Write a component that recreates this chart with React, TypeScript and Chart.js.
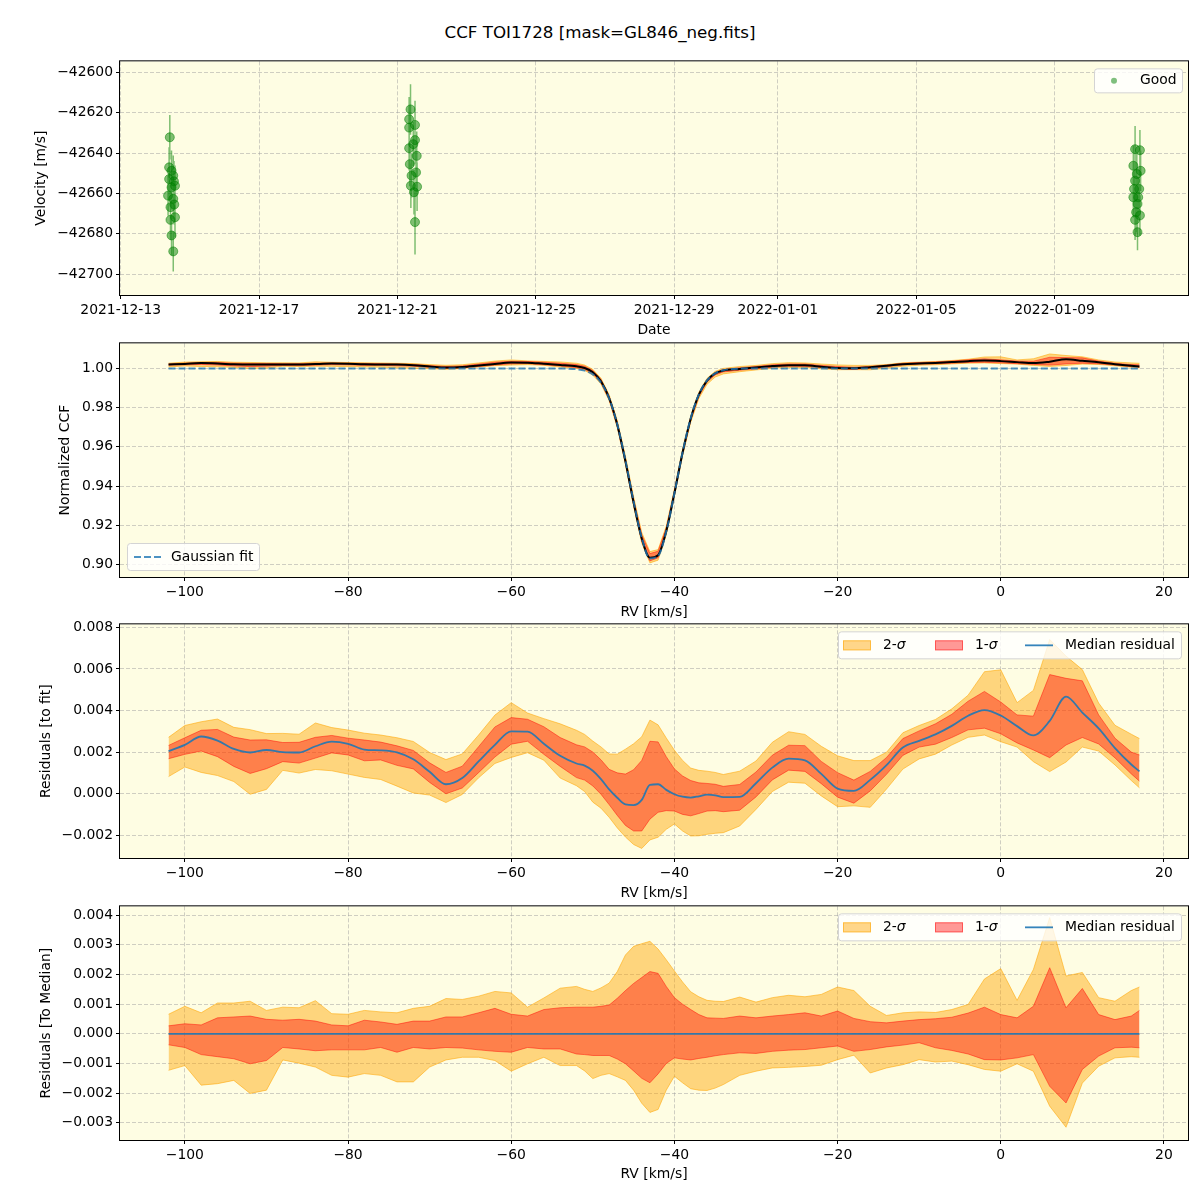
import React, { useEffect, useRef } from 'react';
import { Chart, registerables } from 'chart.js';

Chart.register(...registerables);

const FONT = 'DejaVu Sans';
const FS = 13.9;
const BG = '#fefde3';
const GRID_C = 'rgba(160,160,160,0.5)';

// ---------- Panel 1: velocities (days since 2021-12-13 00:00) ----------
const dateTickDays = [0, 4, 8, 12, 16, 19, 23, 27];
const dateTickLabels = ['2021-12-13', '2021-12-17', '2021-12-21', '2021-12-25', '2021-12-29', '2022-01-01', '2022-01-05', '2022-01-09'];
const velTicks = [-42700, -42680, -42660, -42640, -42620, -42600];

const obsDays = [
  1.42, 1.40, 1.47, 1.52, 1.40, 1.54, 1.57, 1.47, 1.37, 1.52, 1.55, 1.44, 1.57, 1.44, 1.47, 1.52,
  8.38, 8.34, 8.51, 8.34, 8.51, 8.46, 8.34, 8.56, 8.36, 8.54, 8.41, 8.39, 8.57, 8.48, 8.51,
  29.33, 29.47, 29.28, 29.49, 29.38, 29.33, 29.45, 29.30, 29.28, 29.42, 29.40, 29.36, 29.47, 29.33, 29.40,
];
const obsVel = [
  -42632.2, -42647.1, -42648.8, -42651.2, -42652.9, -42654.0, -42656.2, -42657.0, -42661.1, -42662.7, -42665.5, -42666.8, -42671.8, -42673.1, -42680.8, -42688.7,
  -42618.4, -42623.3, -42626.1, -42627.4, -42633.6, -42635.6, -42637.6, -42641.4, -42645.5, -42649.6, -42651.2, -42656.2, -42656.7, -42659.4, -42674.2,
  -42638.1, -42638.6, -42646.3, -42648.8, -42650.4, -42653.7, -42657.8, -42657.8, -42661.9, -42661.9, -42665.2, -42669.3, -42670.9, -42673.1, -42679.2,
];
const obsErr = [
  11, 10, 10, 10, 11, 10, 10, 11, 10, 10, 10, 11, 10, 10, 10, 10,
  12.5, 11, 12, 11, 12, 11, 11, 12, 11, 12, 11, 11, 12, 11, 16,
  11.5, 10, 10, 10, 10, 10, 10, 10, 10, 10, 10, 10, 10, 10, 9,
];

// ---------- Panels 2-4: CCF and residuals ----------
const rvTicks = [-100, -80, -60, -40, -20, 0, 20];
const ccfTicks = [0.9, 0.92, 0.94, 0.96, 0.98, 1.0];
const resTicks = [-0.002, 0, 0.002, 0.004, 0.006, 0.008];
const medTicks = [-0.003, -0.002, -0.001, 0, 0.001, 0.002, 0.003, 0.004];

const rv = [
  -102, -100, -98, -96, -94, -92, -90, -88, -86, -84,
  -82, -80, -78, -76, -74, -72, -70, -68, -66, -64,
  -62, -60, -58, -56, -54, -52, -51, -50, -49, -48,
  -47, -46, -45, -44, -43, -42, -41, -40, -39, -38,
  -37, -36, -35, -34, -32, -30, -28, -26, -24, -22,
  -20, -18, -16, -14, -12, -10, -8, -6, -4, -2,
  0, 2, 4, 6, 8, 10, 12, 14, 16, 17,
];

// Gaussian fit of the normalized CCF
const gaussFit = [
  1, 1, 1, 1, 1, 1, 1, 1, 1, 1,
  1, 1, 1, 1, 1, 1, 1, 1, 1, 1,
  1, 1, 1, 1, 0.99998, 0.99965, 0.99891, 0.99702, 0.99281, 0.98474,
  0.97149, 0.95312, 0.93213, 0.91352, 0.90299, 0.90423, 0.91677, 0.93632, 0.95712, 0.97458,
  0.98674, 0.99391, 0.99754, 0.99912, 0.99992, 1, 1, 1, 1, 1,
  1, 1, 1, 1, 1, 1, 1, 1, 1, 1,
  1, 1, 1, 1, 1, 1, 1, 1, 1, 1,
];

// residual values below are in units of 1e-4
const RES_UNIT = 1e-4;
const medianRes = [
  20.5, 23.5, 27.5, 25.5, 21.5, 19.8, 21, 20, 19.8, 22.8,
  25, 24, 21.2, 20.8, 19.8, 16.5, 10.5, 4.5, 7.5, 15.5,
  23.5, 30, 29.8, 24, 18.2, 14.5, 13.5, 11, 7, 2,
  -2, -5.2, -5.5, -3, 4.2, 4.5, 1.8, -0.3, -1.5, -1.9,
  -1.3, -0.5, -0.8, -1.7, -1.6, 5, 12.5, 16.8, 16, 9.5,
  2.4, 1.3, 6.6, 13.7, 22.2, 25.4, 28.5, 32.6, 37.5, 40.2,
  37.6, 32.5, 28, 35, 46.7, 39, 31.4, 21.9, 14, 10.7,
];
// band edges relative to the median residual
const up2Off = [
  6.6, 9.3, 7.1, 10.4, 10.4, 11, 7.9, 9, 8.8, 11.2,
  6.8, 6.6, 7.9, 7.4, 7.1, 8.6, 9.3, 11.9, 11.6, 12.7,
  14.3, 13.8, 9, 12.1, 15.4, 16, 15, 14.3, 15.5, 17.1,
  21, 26.6, 29.5, 30.4, 31.2, 28.6, 25, 21.2, 17.5, 14.2,
  12.5, 11.3, 11, 10.9, 12.4, 10.7, 12.2, 13, 12.5, 13.3,
  15.8, 14.6, 9.3, 6.2, 7.1, 7.4, 7.2, 8.2, 9.9, 18.5,
  22, 11.3, 21.7, 39.2, 19.5, 20.7, 12.2, 11, 14.6, 15.8,
];
const up1Off = [
  2.7, 3.4, 3, 5.4, 5.7, 6, 4.9, 4.6, 4.9, 4.3,
  3, 2.7, 4.6, 4, 3.2, 4.3, 4.3, 5.7, 5.7, 7.1,
  8.6, 6.6, 6, 8.2, 8.8, 9, 9, 9, 9.3, 9.7,
  12, 14.6, 17, 19, 21, 20.4, 16, 12.2, 10, 8.2,
  6.5, 5.4, 5.3, 5.2, 6, 5.4, 6, 6.5, 7.1, 6,
  7.7, 5.2, 4.1, 3.7, 4.3, 4.8, 5.1, 5.6, 7, 9,
  6.5, 5.4, 9.3, 22.3, 8.8, 15.3, 6.5, 4.8, 6, 7.9,
];
const lo1Off = [
  -3.7, -4.6, -7, -7.7, -8.4, -10.1, -9, -4.6, -5.1, -5.7,
  -5.4, -5.4, -5.4, -4.6, -6.2, -4.6, -5.1, -4.6, -4.8, -5.4,
  -5.9, -6.2, -4.6, -5.1, -5.1, -6.8, -7, -7.3, -7.3, -7.3,
  -8.5, -10.1, -12.5, -15, -16.5, -13.5, -10, -8.1, -8.5, -8.8,
  -8.3, -7.9, -7.4, -7, -6.4, -6.6, -5.9, -5.5, -5.3, -4.7,
  -4.1, -5.9, -5.3, -4.4, -3.8, -3, -4.7, -5.6, -6.8, -8.7,
  -8.8, -8.1, -7, -17.7, -23.3, -12, -7.5, -4.7, -4.5, -4.7,
];
const lo2Off = [
  -12.3, -10.7, -17.3, -16.8, -15.7, -20.1, -19, -8.8, -9.9, -11.2,
  -14, -14.6, -13.4, -14, -16.2, -16.2, -11.2, -8.8, -7.9, -7.9,
  -9, -12.6, -10.1, -7.9, -10.7, -10.7, -12.5, -15.1, -14, -13.4,
  -14.5, -15.7, -19, -23.4, -26.5, -25.5, -19, -14.3, -16.5, -18.5,
  -19, -19.1, -18.3, -17.1, -14, -12.6, -11.5, -11.3, -11, -10.6,
  -8.7, -7.2, -13.2, -11.5, -10.4, -8.7, -9.5, -9.2, -10.4, -12,
  -12.6, -10.1, -12.6, -24.4, -31.5, -16.6, -10.9, -8.1, -7.7, -7.9,
];

// ---------- helpers ----------
const C_2S = 'rgba(255,165,0,0.45)';
const C_2S_EDGE = 'rgba(255,165,0,0.55)';
const C_1S = 'rgba(255,0,0,0.4)';
const C_1S_EDGE = 'rgba(255,0,0,0.45)';
const C_MED = 'rgba(31,119,180,0.9)';
const C_GAUSS = 'rgba(31,119,180,0.8)';
const C_GOOD = 'rgba(0,128,0,0.5)';

const minus = (v: number, s: string) => (v < -1e-12 ? '\u2212' : '') + s;
const fmtInt = (v: number) => minus(v, Math.abs(v).toFixed(0));
const fmt2 = (v: number) => minus(v, Math.abs(v).toFixed(2));
const fmt3 = (v: number) => minus(v, Math.abs(v).toFixed(3));

const pts = (ys: number[]) => rv.map((x, i) => ({ x, y: ys[i] }));

const font = { family: FONT, size: FS };

function gridOpts() {
  return { color: GRID_C, lineWidth: 1, tickColor: '#000', tickLength: 4, tickWidth: 1, tickBorderDash: [] as number[] };
}

function xAxis(min: number, max: number, tickVals: number[], labelFn: (v: number, i: number) => string, title: string, padBottom: number) {
  return {
    type: 'linear',
    min,
    max,
    afterBuildTicks: (s: any) => { s.ticks = tickVals.map((v) => ({ value: v })); },
    afterFit: (s: any) => { s.height = 45; },
    ticks: { callback: (v: any, i: number) => labelFn(Number(v), i), font, color: '#000', padding: 3, maxRotation: 0, autoSkip: false },
    grid: gridOpts(),
    border: { display: false, dash: [4, 2] },
    title: { display: true, text: title, font, color: '#000', padding: { top: 0, bottom: padBottom } },
  };
}

function yAxis(min: number, max: number, tickVals: number[], labelFn: (v: number) => string, title: string, padTop: number) {
  return {
    type: 'linear',
    min,
    max,
    afterBuildTicks: (s: any) => { s.ticks = tickVals.map((v) => ({ value: v })); },
    afterFit: (s: any) => { s.width = 120; },
    ticks: { callback: (v: any) => labelFn(Number(v)), font, color: '#000', padding: 3, autoSkip: false },
    grid: gridOpts(),
    border: { display: false, dash: [4, 2] },
    title: { display: true, text: title, font, color: '#000', padding: { top: padTop, bottom: 0 } },
  };
}

type LegendItem = { kind: 'dot' | 'dash' | 'patch' | 'line'; x0: number; x1: number; tx: number; label: string; sigma?: boolean; fill?: string; edge?: string; width?: number };
type LegendCfg = { corner: 'tr' | 'bl'; dx: number; dy: number; w: number; h: number; items: LegendItem[] };

const framePlugin = {
  id: 'frameBg',
  beforeDraw(chart: any) {
    const { ctx, chartArea: a } = chart;
    ctx.save();
    ctx.fillStyle = BG;
    ctx.fillRect(a.left, a.top, a.right - a.left, a.bottom - a.top);
    ctx.restore();
  },
  afterDraw(chart: any) {
    const { ctx, chartArea: a } = chart;
    ctx.save();
    ctx.strokeStyle = '#000';
    ctx.lineWidth = 1;
    ctx.strokeRect(a.left - 0.5, a.top - 0.5, a.right - a.left + 1, a.bottom - a.top + 1);
    ctx.restore();
  },
};

function legendPlugin(cfg: LegendCfg) {
  return {
    id: 'boxLegend',
    afterDraw(chart: any) {
      const { ctx, chartArea: a } = chart;
      const left = cfg.corner === 'tr' ? a.right - cfg.dx : a.left + cfg.dx;
      const top = cfg.corner === 'tr' ? a.top + cfg.dy : a.bottom - cfg.dy - cfg.h;
      ctx.save();
      ctx.beginPath();
      ctx.roundRect(left + 0.5, top + 0.5, cfg.w, cfg.h, 3);
      ctx.fillStyle = 'rgba(255,255,255,0.8)';
      ctx.fill();
      ctx.strokeStyle = '#d4d4d4';
      ctx.lineWidth = 1;
      ctx.stroke();
      const cy = top + cfg.h / 2 + 0.5;
      for (const it of cfg.items) {
        const x0 = left + it.x0;
        const x1 = left + it.x1;
        if (it.kind === 'dot') {
          ctx.beginPath();
          ctx.arc((x0 + x1) / 2, cy, 3, 0, Math.PI * 2);
          ctx.fillStyle = it.fill;
          ctx.fill();
        } else if (it.kind === 'patch') {
          ctx.fillStyle = it.fill;
          ctx.fillRect(x0, cy - 5, x1 - x0, 10);
          ctx.strokeStyle = it.edge;
          ctx.lineWidth = 1;
          ctx.strokeRect(x0 + 0.5, cy - 4.5, x1 - x0 - 1, 9);
        } else {
          ctx.beginPath();
          ctx.setLineDash(it.kind === 'dash' ? [7, 3] : []);
          ctx.moveTo(x0, cy);
          ctx.lineTo(x1, cy);
          ctx.strokeStyle = it.edge;
          ctx.lineWidth = it.width || 1.8;
          ctx.stroke();
          ctx.setLineDash([]);
        }
        ctx.fillStyle = '#000';
        ctx.textBaseline = 'middle';
        ctx.textAlign = 'left';
        ctx.font = `${FS}px "${FONT}"`;
        ctx.fillText(it.label, left + it.tx, cy);
        if (it.sigma) {
          const w = ctx.measureText(it.label).width;
          ctx.font = `italic ${FS}px "${FONT}"`;
          ctx.fillText('\u03c3', left + it.tx + w, cy);
        }
      }
      ctx.restore();
    },
  };
}

const bandLegend: LegendCfg = {
  corner: 'tr', dx: 350, dy: 7, w: 343, h: 27,
  items: [
    { kind: 'patch', x0: 5, x1: 33, tx: 45, label: '2-', sigma: true, fill: C_2S, edge: C_2S_EDGE },
    { kind: 'patch', x0: 97, x1: 125, tx: 137, label: '1-', sigma: true, fill: C_1S, edge: C_1S_EDGE },
    { kind: 'line', x0: 187, x1: 215, tx: 227, label: 'Median residual', edge: C_MED, width: 1.8 },
  ],
};

function bandSets(mid: number[], u2: number[], l2: number[], u1: number[], l1: number[], midColor: string, midWidth: number, extra: any[] = []) {
  return [
    ...extra,
    { data: pts(mid), borderColor: midColor, borderWidth: midWidth, pointRadius: 0, fill: false, cubicInterpolationMode: 'monotone' },
    { data: pts(u1), borderColor: C_1S_EDGE, backgroundColor: C_1S, borderWidth: 1, pointRadius: 0, fill: '+1' },
    { data: pts(l1), borderColor: C_1S_EDGE, borderWidth: 1, pointRadius: 0, fill: false },
    { data: pts(u2), borderColor: C_2S_EDGE, backgroundColor: C_2S, borderWidth: 1, pointRadius: 0, fill: '+1' },
    { data: pts(l2), borderColor: C_2S_EDGE, borderWidth: 1, pointRadius: 0, fill: false },
  ];
}

const baseOptions = (scales: any) => ({
  responsive: false,
  maintainAspectRatio: false,
  animation: false,
  events: [],
  layout: { padding: { top: 10, right: 12, left: 0, bottom: 0 } },
  plugins: { legend: { display: false }, tooltip: { enabled: false } },
  scales,
});

const rvLabel = (v: number) => fmtInt(v);

function cfgVelocity(): any {
  const markers = obsDays.map((d, i) => ({ x: d, y: obsVel[i] }));
  const bars: any[] = [];
  obsDays.forEach((d, i) => {
    bars.push({ x: d, y: obsVel[i] - obsErr[i] }, { x: d, y: obsVel[i] + obsErr[i] }, { x: d, y: null });
  });
  return {
    type: 'line',
    data: {
      datasets: [
        { data: markers, showLine: false, pointRadius: 4.5, pointBackgroundColor: C_GOOD, pointBorderColor: C_GOOD, pointBorderWidth: 1 },
        { data: bars, borderColor: C_GOOD, borderWidth: 1.5, pointRadius: 0, spanGaps: false, fill: false },
      ],
    },
    options: baseOptions({
      x: xAxis(-0.02, 30.86, dateTickDays, (_v, i) => dateTickLabels[i], 'Date', 1.7),
      y: yAxis(-42710.3, -42594.6, velTicks, fmtInt, 'Velocity [m/s]', 32.6),
    }),
    plugins: [framePlugin, legendPlugin({
      corner: 'tr', dx: 94, dy: 7, w: 88, h: 24,
      items: [{ kind: 'dot', x0: 6, x1: 34, tx: 46, label: 'Good', fill: C_GOOD }],
    })],
  };
}

function cfgCCF(): any {
  const obs = rv.map((_, i) => gaussFit[i] + medianRes[i] * RES_UNIT);
  const band = (off: number[]) => rv.map((_, i) => gaussFit[i] + (medianRes[i] + off[i]) * RES_UNIT);
  const gaussSet = { data: pts(gaussFit), borderColor: C_GAUSS, borderWidth: 2, borderDash: [7, 3], pointRadius: 0, fill: false, cubicInterpolationMode: 'monotone' };
  return {
    type: 'line',
    data: { datasets: bandSets(obs, band(up2Off), band(lo2Off), band(up1Off), band(lo1Off), '#000', 2, [gaussSet]) },
    options: baseOptions({
      x: xAxis(-107.95, 22.95, rvTicks, rvLabel, 'RV [km/s]', 1.7),
      y: yAxis(0.89355, 1.01284, ccfTicks, fmt2, 'Normalized CCF', 57.2),
    }),
    plugins: [framePlugin, legendPlugin({
      corner: 'bl', dx: 7, dy: 7, w: 132, h: 27,
      items: [{ kind: 'dash', x0: 7, x1: 35, tx: 44, label: 'Gaussian fit', edge: C_GAUSS, width: 2 }],
    })],
  };
}

function cfgResFit(): any {
  const s = (off: number[]) => rv.map((_, i) => (medianRes[i] + off[i]) * RES_UNIT);
  const mid = medianRes.map((m) => m * RES_UNIT);
  return {
    type: 'line',
    data: { datasets: bandSets(mid, s(up2Off), s(lo2Off), s(up1Off), s(lo1Off), C_MED, 1.8) },
    options: baseOptions({
      x: xAxis(-107.95, 22.95, rvTicks, rvLabel, 'RV [km/s]', 1.7),
      y: yAxis(-0.0031, 0.00815, resTicks, fmt3, 'Residuals [to fit]', 37.7),
    }),
    plugins: [framePlugin, legendPlugin(bandLegend)],
  };
}

function cfgResMed(): any {
  const s = (off: number[]) => off.map((o) => o * RES_UNIT);
  const mid = medianRes.map(() => 0);
  return {
    type: 'line',
    data: { datasets: bandSets(mid, s(up2Off), s(lo2Off), s(up1Off), s(lo1Off), C_MED, 1.8) },
    options: baseOptions({
      x: xAxis(-107.95, 22.95, rvTicks, rvLabel, 'RV [km/s]', 2.5),
      y: yAxis(-0.00358, 0.0043, medTicks, fmt3, 'Residuals [To Median]', 37.7),
    }),
    plugins: [framePlugin, legendPlugin(bandLegend)],
  };
}

const panels = [
  { top: 60, bottom: 295, make: cfgVelocity },
  { top: 342, bottom: 577, make: cfgCCF },
  { top: 623, bottom: 858, make: cfgResFit },
  { top: 905, bottom: 1140, make: cfgResMed },
];

export default function App() {
  const refs = [useRef<HTMLCanvasElement>(null), useRef<HTMLCanvasElement>(null), useRef<HTMLCanvasElement>(null), useRef<HTMLCanvasElement>(null)];
  useEffect(() => {
    Chart.defaults.font.family = FONT;
    Chart.defaults.font.size = FS;
    Chart.defaults.color = '#000';
    const charts = panels.map((p, i) => new Chart(refs[i].current as HTMLCanvasElement, p.make()));
    return () => charts.forEach((c) => c.destroy());
  }, []);
  return (
    <div style={{ position: 'absolute', left: 0, top: 0, width: 1200, height: 1200, background: '#fff', overflow: 'hidden' }}>
      <div style={{ position: 'absolute', left: 0, top: 22, width: 1200, textAlign: 'center', fontFamily: `"${FONT}"`, fontSize: 16.7, lineHeight: '20px', color: '#000' }}>
        CCF TOI1728 [mask=GL846_neg.fits]
      </div>
      {panels.map((p, i) => {
        const h = p.bottom - p.top + 55;
        return (
          <canvas
            key={i}
            ref={refs[i]}
            width={1200}
            height={h}
            style={{ position: 'absolute', left: 0, top: p.top - 10, width: 1200, height: h }}
          />
        );
      })}
    </div>
  );
}
